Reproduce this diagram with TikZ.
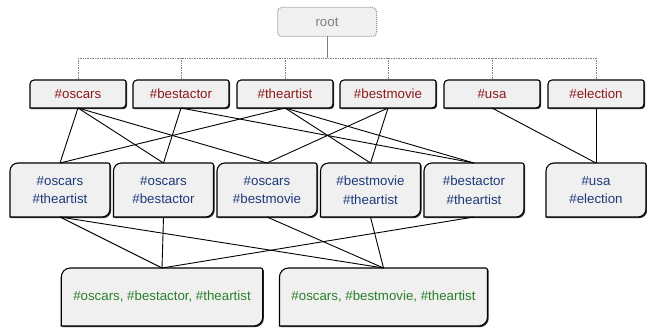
\documentclass[tikz,border=0pt]{standalone}
\usepackage{fontspec}
\setmainfont{Liberation Sans}
\usetikzlibrary{shadows}

\definecolor{boxfill}{HTML}{F0F0F0}
\definecolor{tagred}{HTML}{8B1A1A}
\definecolor{tagblue}{HTML}{1F3A7A}
\definecolor{taggreen}{HTML}{2A7F2A}

\pgfdeclarelayer{bg}
\pgfsetlayers{bg,main}

\begin{document}
\begin{tikzpicture}[x=1pt,y=-1pt,
   tag/.style={inner sep=0pt,outer sep=0pt,align=center,font=\fontsize{13.3}{18.5}\selectfont},
   single/.style={tag,minimum width=96pt,minimum height=28pt,text=tagred},
   pair/.style={tag,minimum width=100pt,minimum height=54pt,text=tagblue},
   triple/.style={tag,inner xsep=12pt,minimum height=58pt,text=taggreen},
   rootbox/.style={tag,minimum width=99pt,minimum height=29pt,draw=gray!80,densely dotted,
                   line width=1pt,rounded corners=4pt,fill=boxfill,text=gray},
   frame/.style={draw=black,line width=1.1pt,fill=boxfill,
                 drop shadow={shadow xshift=1.2pt,shadow yshift=-1.2pt,opacity=1,fill=black!80}},
   link/.style={line width=0.9pt},
   tree/.style={gray,densely dotted,line width=0.7pt}]
   \useasboundingbox (0,0) rectangle (647,329);

   \node[rootbox] (root) at (327,22) {root};

   % single tags
   \node[single] (oscars)    at (78,94)  {\#oscars};
   \node[single] (bestactor) at (181,94) {\#bestactor};
   \node[single] (theartist) at (285,94) {\#theartist};
   \node[single] (bestmovie) at (388,94) {\#bestmovie};
   \node[single] (usa)       at (492,94) {\#usa};
   \node[single] (election)  at (596,94) {\#election};

   % pairs
   \node[pair] (oscarsartist) at (60,190)    {\#oscars\\\#theartist};
   \node[pair] (oscarsactor)  at (163.5,190) {\#oscars\\\#bestactor};
   \node[pair] (oscarsmovie)  at (267,190)   {\#oscars\\\#bestmovie};
   \node[pair] (movieartist)  at (370.5,190) {\#bestmovie\\\#theartist};
   \node[pair] (actorartist)  at (474,190)   {\#bestactor\\\#theartist};
   \node[pair] (usaelection)  at (596,190)   {\#usa\\\#election};

   % triples
   \node[triple] (actorset) at (162,297) {\#oscars, \#bestactor, \#theartist};
   \node[triple] (movieset) at (383.5,297) {\#oscars, \#bestmovie, \#theartist};

   \begin{pgfonlayer}{bg}
   \foreach \n/\r in {oscars/4pt,bestactor/4pt,theartist/4pt,bestmovie/4pt,usa/4pt,election/4pt,
                      oscarsartist/8pt,oscarsactor/8pt,oscarsmovie/8pt,movieartist/8pt,actorartist/8pt,usaelection/8pt,
                      actorset/9pt,movieset/9pt}
      \path[frame] (\n.west) [rounded corners=\r] -- (\n.north west) -- (\n.north)
                   [rounded corners=2pt] -- (\n.north east) -- (\n.east)
                   [rounded corners=\r] -- (\n.south east) -- (\n.south)
                   [sharp corners] -- (\n.south west) -- cycle;
   \end{pgfonlayer}

   % tree under root
   \coordinate (bus) at (327,58);
   \draw[gray,line width=1pt] (root.south) -- (bus);
   \draw[tree] (oscars.north |- bus) -- (election.north |- bus);
   \foreach \n in {oscars,bestactor,theartist,bestmovie,usa,election}
      \draw[tree] (\n.north |- bus) -- (\n.north);

   % lattice links
   \foreach \a/\b in {oscars/oscarsartist,oscars/oscarsactor,oscars/oscarsmovie,
                      bestactor/oscarsactor,bestactor/actorartist,
                      theartist/oscarsartist,theartist/movieartist,theartist/actorartist,
                      bestmovie/oscarsmovie,bestmovie/movieartist,
                      usa/usaelection,election/usaelection,
                      oscarsartist/actorset,oscarsactor/actorset,actorartist/actorset,
                      oscarsartist/movieset,oscarsmovie/movieset,movieartist/movieset}
      \draw[link] (\a.south) -- (\b.north);

\end{tikzpicture}
\end{document}
